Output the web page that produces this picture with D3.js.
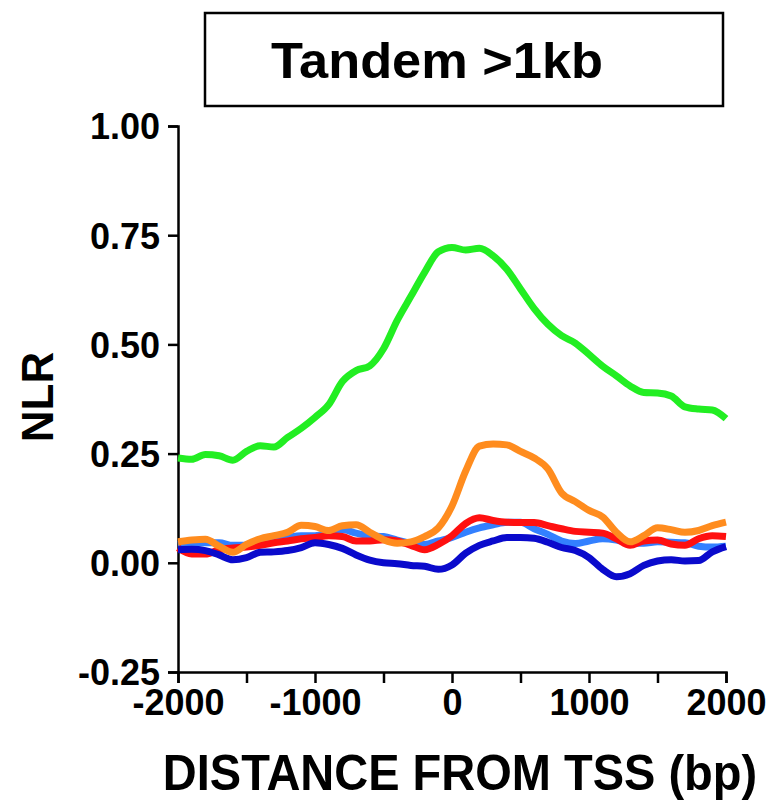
<!DOCTYPE html>
<html>
<head>
<meta charset="utf-8">
<script src="https://cdn.jsdelivr.net/npm/d3@7"></script>
<style>
  body { margin: 0; background: #fff; }
  text { font-family: "Liberation Sans", Arial, sans-serif; font-weight: bold; }
</style>
</head>
<body>
<svg width="771" height="805"></svg>
<script>
// distance from TSS, every 100 bp
var positions = d3.range(-2000, 2001, 100)

var green = [0.240, 0.237, 0.248, 0.245, 0.235, 0.255, 0.268, 0.265, 0.287, 0.308,
    0.333, 0.362, 0.415, 0.440, 0.451, 0.490, 0.555, 0.610, 0.665, 0.712,
    0.722, 0.716, 0.720, 0.703, 0.672, 0.627, 0.582, 0.546, 0.520, 0.503,
    0.477, 0.450, 0.428, 0.405, 0.390, 0.389, 0.382, 0.357, 0.352, 0.350, 0.330]
var orange = [0.048, 0.052, 0.054, 0.038, 0.024, 0.042, 0.055, 0.062, 0.070, 0.086,
    0.083, 0.074, 0.085, 0.087, 0.070, 0.053, 0.045, 0.048, 0.060, 0.080,
    0.130, 0.210, 0.267, 0.272, 0.270, 0.255, 0.240, 0.215, 0.160, 0.140,
    0.120, 0.105, 0.070, 0.048, 0.062, 0.080, 0.076, 0.070, 0.074, 0.085, 0.093]
var red = [0.034, 0.020, 0.020, 0.030, 0.034, 0.036, 0.040, 0.046, 0.050, 0.055,
    0.058, 0.062, 0.060, 0.050, 0.050, 0.053, 0.050, 0.040, 0.030, 0.042,
    0.062, 0.090, 0.103, 0.097, 0.093, 0.092, 0.092, 0.085, 0.078, 0.072,
    0.070, 0.068, 0.055, 0.040, 0.050, 0.052, 0.043, 0.040, 0.055, 0.062, 0.060]
var lightBlue = [0.042, 0.045, 0.046, 0.046, 0.040, 0.040, 0.045, 0.052, 0.058, 0.062,
    0.062, 0.068, 0.076, 0.068, 0.062, 0.060, 0.052, 0.045, 0.042, 0.050,
    0.058, 0.070, 0.080, 0.087, 0.093, 0.093, 0.078, 0.065, 0.050, 0.044,
    0.050, 0.055, 0.052, 0.045, 0.045, 0.048, 0.047, 0.046, 0.038, 0.036, 0.038]
var darkBlue = [0.030, 0.031, 0.028, 0.018, 0.007, 0.012, 0.024, 0.025, 0.028, 0.035,
    0.046, 0.042, 0.033, 0.018, 0.006, 0.000, -0.002, -0.006, -0.008, -0.015,
    -0.005, 0.022, 0.040, 0.050, 0.058, 0.058, 0.056, 0.047, 0.035, 0.028,
    0.012, -0.015, -0.032, -0.025, -0.006, 0.004, 0.007, 0.004, 0.005, 0.025, 0.037]

var yTicks = [-0.25, 0, 0.25, 0.5, 0.75, 1]
var yTickLabels = ['-0.25', '0.00', '0.25', '0.50', '0.75', '1.00']
var xTicks = [-2000, -1500, -1000, -500, 0, 500, 1000, 1500, 2000]
var xTickLabels = ['-2000', '', '-1000', '', '0', '', '1000', '', '2000']

var series = [
    {values: green, color: '#22ee22'},
    {values: lightBlue, color: '#3380ff'},
    {values: red, color: '#ff1010'},
    {values: darkBlue, color: '#0a0acc'},
    {values: orange, color: '#ff8c1e'}
]

var svg = d3.select('svg')

var x = d3.scaleLinear().domain([-2000, 2000]).range([178, 726])
var y = d3.scaleLinear().domain([-0.25, 1]).range([672, 126])

// title box
svg.append('rect')
    .attr('x', 205).attr('y', 13).attr('width', 518).attr('height', 93)
    .attr('fill', 'none').attr('stroke', '#000').attr('stroke-width', 2.5)
svg.append('text')
    .attr('x', 437).attr('y', 78)
    .attr('text-anchor', 'middle')
    .attr('font-size', 50)
    .attr('textLength', 332).attr('lengthAdjust', 'spacingAndGlyphs')
    .text('Tandem >1kb')

// axes
var yAxis = d3.axisLeft(y)
    .tickValues(yTicks)
    .tickFormat(function(d, i) { return yTickLabels[i] })
    .tickSize(10).tickPadding(8)
var xAxis = d3.axisBottom(x)
    .tickValues(xTicks)
    .tickFormat(function(d, i) { return xTickLabels[i] })
    .tickSize(11).tickPadding(6)

var gy = svg.append('g').attr('transform', 'translate(178,0)').call(yAxis)
var gx = svg.append('g').attr('transform', 'translate(0,672)').call(xAxis)

;[gx, gy].forEach(function(g) {
    g.select('.domain').attr('stroke-width', 2.5)
    g.selectAll('.tick line').attr('stroke-width', 2.5)
    g.selectAll('.tick text')
        .attr('font-size', 36)
        .attr('font-family', '"Liberation Sans", Arial, sans-serif')
        .attr('font-weight', 'bold')
        .attr('fill', '#000')
})
gy.selectAll('.tick text').attr('dy', '0.36em')

// lines
var line = d3.line()
    .x(function(d, i) { return x(positions[i]) })
    .y(function(d) { return y(d) })
    .curve(d3.curveMonotoneX)

svg.selectAll('path.series')
    .data(series)
    .enter()
    .append('path')
    .attr('class', 'series')
    .attr('d', function(s) { return line(s.values) })
    .attr('fill', 'none')
    .attr('stroke', function(s) { return s.color })
    .attr('stroke-width', 7)
    .attr('stroke-linejoin', 'round')

// axis titles
svg.append('text')
    .attr('transform', 'translate(53,397) rotate(-90)')
    .attr('text-anchor', 'middle')
    .attr('font-size', 44)
    .text('NLR')
svg.append('text')
    .attr('transform', 'translate(460,790) scale(1,1.08)')
    .attr('text-anchor', 'middle')
    .attr('font-size', 47)
    .text('DISTANCE FROM TSS (bp)')
</script>
</body>
</html>
